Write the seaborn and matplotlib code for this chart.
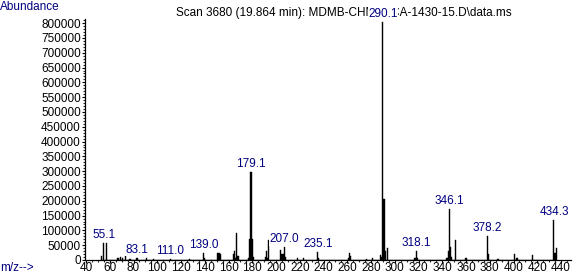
import matplotlib
matplotlib.use("Agg")
import matplotlib.pyplot as plt
import seaborn as sns
import numpy as np
import pandas as pd
from matplotlib import font_manager
from matplotlib.ticker import MultipleLocator

# ---- data ----
mz = [53, 55, 57, 67, 69, 71, 73, 77, 83, 91, 97, 111, 127,
      139, 140, 151, 152, 153, 164, 165, 166, 167, 168,
      177, 178, 179, 180, 181, 191, 192, 193, 194,
      204, 205, 206, 207, 208, 218, 223, 235, 236,
      261, 262, 263, 276, 281, 288, 289, 290, 291, 292, 294,
      317, 318, 319, 344, 345, 346, 347, 348, 351, 360,
      378, 379, 387, 401, 403, 416, 434, 435, 436]
abundance = [12000, 58000, 58000, 8000, 10000, 6000, 15000, 5000, 8000, 6000, 3000, 4000, 5000,
             23000, 6000, 22000, 25000, 20000, 20000, 30000, 8000, 92000, 12000,
             8000, 71000, 297000, 71000, 10000, 10000, 30000, 8000, 68000,
             34000, 20000, 20000, 44000, 10000, 6000, 8000, 27000, 6000,
             8000, 25000, 13000, 5000, 7000, 17000, 10000, 805000, 206000, 31000, 40000,
             6000, 31000, 8000, 6000, 30000, 172000, 45000, 10000, 68000, 6000,
             81000, 20000, 5000, 20000, 8000, 17000, 135000, 25000, 40000]
label_mz = [55.1, 83.1, 111.0, 139.0, 179.1, 207.0, 235.1, 290.1, 318.1, 346.1, 378.2, 434.3]
label_peak = [55, 83, 111, 139, 179, 207, 235, 290, 318, 346, 378, 434]

title = "Scan 3680 (19.864 min): MDMB-CHMCZCA-1430-15.D\\data.ms"
yticks = list(range(0, 800001, 50000))
xticks = list(range(40, 441, 20))

df = pd.DataFrame({"mz": mz, "abundance": abundance})

sns.set_style("ticks")
names = {f.name for f in font_manager.fontManager.ttflist}
base_font = "Liberation Sans" if "Liberation Sans" in names else "DejaVu Sans"
narrow_font = "Liberation Sans Narrow" if "Liberation Sans Narrow" in names else base_font
plt.rcParams["font.family"] = [base_font, "DejaVu Sans"]

navy = "#000080"
fig = plt.figure(figsize=(5.85, 2.73), dpi=100)
ax = fig.add_axes([85 / 585, 13 / 273, 486 / 585, 241 / 273])

sns.histplot(data=df, x="mz", weights="abundance", discrete=True, shrink=1.0,
             color="black", alpha=1, linewidth=0.3, edgecolor="black", ax=ax)

ax.set_xlim(39.16, 448.4)
ax.set_ylim(0, 814000)
ax.set_xticks(xticks)
ax.set_yticks(yticks)
ax.set_xticklabels([str(t) for t in xticks])
ax.set_yticklabels([str(t) for t in yticks])
ax.xaxis.set_minor_locator(MultipleLocator(5))
ax.yaxis.set_minor_locator(MultipleLocator(10000))
ax.tick_params(axis="y", which="major", direction="out", length=2.5, width=0.8,
               labelsize=8.5, colors="black", pad=0.5)
ax.tick_params(axis="x", which="major", direction="out", length=2.5, width=0.8,
               labelsize=8.5, colors="black", pad=-1)
ax.tick_params(axis="both", which="minor", direction="out", length=1.5, width=0.8)
ax.set_xlabel("")
ax.set_ylabel("")
sns.despine(ax=ax)
for s in ("left", "bottom"):
    ax.spines[s].set_linewidth(0.9)
    ax.spines[s].set_color("black")

fig.text(176 / 585, 1 - 13 / 273, title, ha="left", va="center", fontsize=8.5,
         color="black", zorder=-1)
fig.text(0.0, 1 - 7 / 273, "Abundance", ha="left", va="center", fontsize=8.5, color=navy)
fig.text(0.0, 1 - 268 / 273, "m/z-->", ha="left", va="center", fontsize=8.5, color=navy)

lookup = dict(zip(mz, abundance))
lab_size = 9.5 if narrow_font != base_font else 8.5
for lm, lp in zip(label_mz, label_peak):
    ax.annotate(f"{lm:.1f}", xy=(lm, lookup[lp]), xytext=(0, 2), textcoords="offset pixels",
                ha="center", va="bottom", color=navy, fontsize=lab_size,
                family=[narrow_font, "DejaVu Sans"], annotation_clip=False, zorder=5,
                bbox=dict(boxstyle="square,pad=0.05", fc="white", ec="none"))

fig.savefig("out.png", dpi=100)
